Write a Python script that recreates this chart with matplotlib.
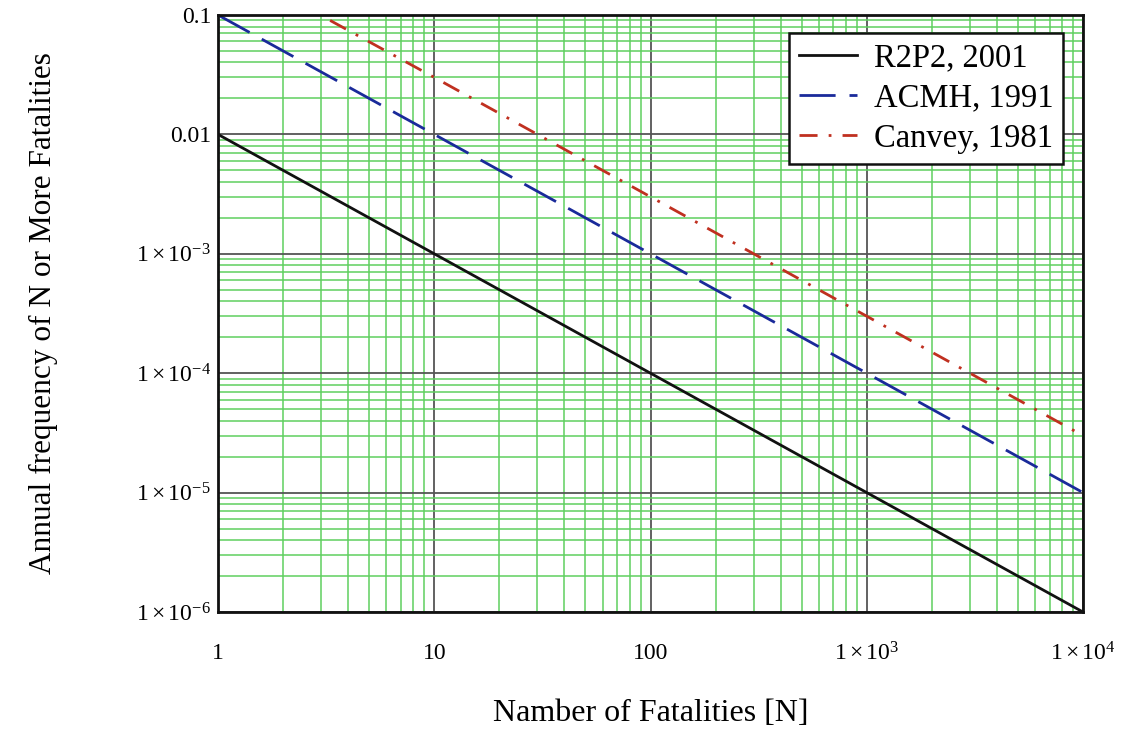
import numpy as np
import matplotlib
matplotlib.use('Agg')
from matplotlib import pyplot as plt
from matplotlib.ticker import FixedLocator, FixedFormatter, LogLocator, NullFormatter

plt.rcParams['font.family'] = ['Liberation Serif', 'DejaVu Serif']
plt.rcParams['mathtext.fontset'] = 'custom'
plt.rcParams['mathtext.rm'] = 'Liberation Serif'
plt.rcParams['mathtext.it'] = 'Liberation Serif:italic'

# F-N curves
r2p2_n = [1, 10, 100, 1000, 10000]
r2p2_f = [0.01, 1e-3, 1e-4, 1e-5, 1e-6]

acmh_n = [1, 10, 100, 1000, 10000]
acmh_f = [0.1, 0.01, 1e-3, 1e-4, 1e-5]

canvey_n = [3.3, 10, 100, 1000, 10000]
canvey_f = [0.09, 0.03, 3e-3, 3e-4, 3e-5]

# Ticks
x_ticks = [1, 10, 100, 1000, 10000]
x_tick_labels = ['1', '10', '100', r'$1\times10^{3}$', r'$1\times10^{4}$']
y_ticks = [1e-6, 1e-5, 1e-4, 1e-3, 0.01, 0.1]
y_tick_labels = [r'$1\times10^{-6}$', r'$1\times10^{-5}$', r'$1\times10^{-4}$',
                 r'$1\times10^{-3}$', '0.01', '0.1']

fig = plt.figure(figsize=(11.33, 7.30), dpi=100)
ax = fig.add_axes([0.1924, 0.1616, 0.7635, 0.8179])

ax.plot(r2p2_n, r2p2_f, color='#111111', lw=2, label='R2P2, 2001')
ax.plot(acmh_n, acmh_f, color='#1a2a9a', lw=2, dashes=(13, 5), label='ACMH, 1991')
ax.plot(canvey_n, canvey_f, color='#c03020', lw=2, dashes=(6.5, 4, 1, 4), label='Canvey, 1981')

ax.set_xscale('log')
ax.set_yscale('log')
ax.set_xlim(1, 1e4)
ax.set_ylim(1e-6, 0.1)

ax.xaxis.set_major_locator(FixedLocator(x_ticks))
ax.xaxis.set_major_formatter(FixedFormatter(x_tick_labels))
ax.yaxis.set_major_locator(FixedLocator(y_ticks))
ax.yaxis.set_major_formatter(FixedFormatter(y_tick_labels))
ax.xaxis.set_minor_locator(LogLocator(base=10, subs=np.arange(2, 10)))
ax.yaxis.set_minor_locator(LogLocator(base=10, subs=np.arange(2, 10)))
ax.xaxis.set_minor_formatter(NullFormatter())
ax.yaxis.set_minor_formatter(NullFormatter())

ax.grid(which='minor', color='#5fcf5f', lw=1.1)
ax.grid(which='major', color='#555555', lw=1.3)
ax.set_axisbelow(True)

ax.tick_params(which='both', length=0)
ax.tick_params(axis='x', labelsize=17, pad=22)
ax.tick_params(axis='y', labelsize=17, pad=5)

for s in ax.spines.values():
    s.set_linewidth(2)
    s.set_color('#111111')

ax.set_xlabel('Namber of Fatalities [N]', fontsize=23, labelpad=24)
ax.set_ylabel('Annual frequency of N or More Fatalities', fontsize=22.5, labelpad=56)

leg = ax.legend(loc='upper right', bbox_to_anchor=(0.977, 0.97), fontsize=23.5,
                frameon=True, fancybox=False, framealpha=1, edgecolor='#111111',
                handlelength=1.8, handletextpad=0.5, borderpad=0.3,
                labelspacing=0.3, borderaxespad=0)
leg.get_frame().set_linewidth(1.8)

fig.savefig('out.png', dpi=100)
